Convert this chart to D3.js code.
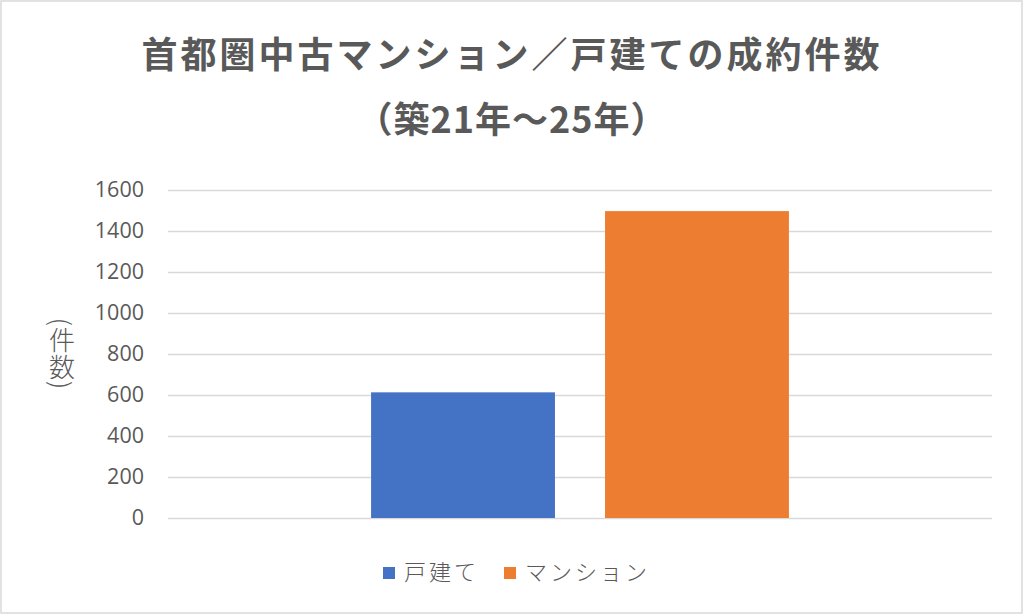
<!DOCTYPE html>
<html><head><meta charset="utf-8">
<script src="https://cdn.jsdelivr.net/npm/d3@7"></script>
<style>
html,body{margin:0;padding:0;background:#fff;}
svg{display:block;font-family:"Noto Sans CJK JP","Noto Sans",sans-serif;}
</style></head>
<body>
<script>
const titleLines = ["首都圏中古マンション／戸建ての成約件数", "（築21年～25年）"];
const yAxisLabel = "(件数)";
const categories = [""];
const seriesNames = ["戸建て", "マンション"];
const seriesValues = [613, 1497];
const seriesColors = ["#4472C4", "#ED7D31"];
const yTicks = [0, 200, 400, 600, 800, 1000, 1200, 1400, 1600];

const W = 1024, H = 615;
const svg = d3.select("body").append("svg").attr("width", W).attr("height", H);

svg.append("rect").attr("x", 1).attr("y", 1).attr("width", W - 3).attr("height", H - 3)
  .attr("fill", "#fff").attr("stroke", "#D9D9D9").attr("stroke-width", 1.5);

const m = {left: 168, right: 992, top: 190, bottom: 518};
const y = d3.scaleLinear().domain([0, 1600]).range([m.bottom, m.top]);
const x0 = d3.scaleBand().domain(categories).range([m.left, m.right]);
const x1 = d3.scaleBand().domain(seriesNames).range([0, x0.bandwidth()])
  .paddingInner(0.214).paddingOuter(0.868);

// gridlines + tick labels
const yAxis = d3.axisLeft(y).tickValues(yTicks).tickFormat(d3.format("d"))
  .tickSize(-(m.right - m.left)).tickPadding(24);
const ga = svg.append("g").attr("transform", `translate(${m.left},0)`).call(yAxis);
ga.select(".domain").remove();
ga.selectAll(".tick line").attr("stroke", "#D9D9D9").attr("stroke-width", 1.5);
ga.selectAll(".tick text").attr("fill", "#595959").attr("font-size", 21.5)
  .attr("font-family", "'Open Sans', 'Noto Sans', sans-serif");

// bars
const data = seriesNames.map((s, i) => ({series: s, value: seriesValues[i], color: seriesColors[i], cat: categories[0]}));
svg.append("g").selectAll("rect").data(data).join("rect")
  .attr("x", d => x0(d.cat) + x1(d.series))
  .attr("width", x1.bandwidth())
  .attr("y", d => y(d.value))
  .attr("height", d => y(0) - y(d.value))
  .attr("fill", d => d.color);

// title
svg.append("text").attr("x", 512).attr("y", 68).attr("text-anchor", "middle")
  .attr("font-size", 36).attr("font-weight", "bold").attr("fill", "#595959")
  .attr("letter-spacing", 3).text(titleLines[0]);
svg.append("text").attr("x", 512).attr("y", 133).attr("text-anchor", "middle")
  .attr("font-size", 36).attr("font-weight", "bold").attr("fill", "#595959")
  .attr("letter-spacing", 1).text(titleLines[1]);

// y axis label (vertical)
svg.append("text").attr("x", 62).attr("y", 354)
  .attr("text-anchor", "middle")
  .style("writing-mode", "vertical-rl")
  .attr("font-size", 26).attr("font-weight", 300).attr("fill", "#595959")
  .attr("letter-spacing", 1)
  .text(yAxisLabel);

// legend
const lg = svg.append("g");
const legX = [383, 504];
seriesNames.forEach((s, i) => {
  lg.append("rect").attr("x", legX[i]).attr("y", 567).attr("width", 12).attr("height", 12).attr("fill", seriesColors[i]);
  lg.append("text").attr("x", legX[i] + 21).attr("y", 580).attr("font-size", 22)
    .attr("fill", "#595959").attr("font-weight", 300).attr("letter-spacing", 3).text(s);
});
</script>
</body></html>
